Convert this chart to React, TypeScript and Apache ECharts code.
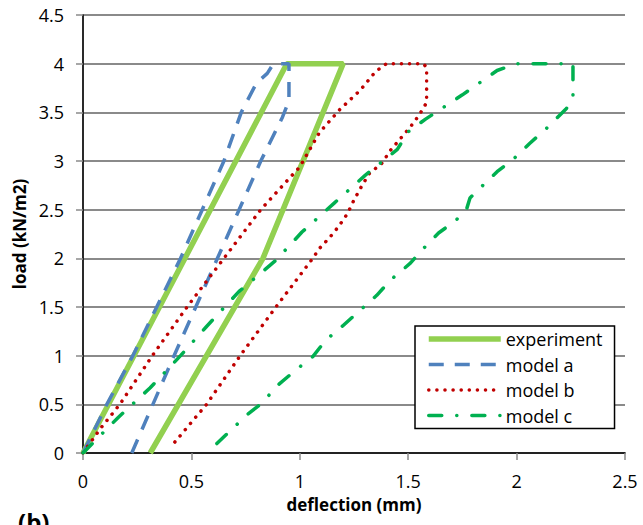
import React, { useEffect, useRef } from "react";
import * as echarts from "echarts";

const xTicks = { min: 0, max: 2.5, interval: 0.5 };
const yTicks = { min: 0, max: 4.5, interval: 0.5 };

const seriesNames = ["experiment", "model a", "model b", "model c"];

const experiment: number[][] = [
  [0, 0], [0.94, 4], [1.2, 4], [0.83, 2], [0.31, 0],
];

const modelA: number[][] = [
  [0, 0], [0.11, 0.5], [0.23, 1], [0.34, 1.5], [0.45, 2], [0.55, 2.5],
  [0.65, 3], [0.73, 3.5], [0.8, 3.8], [0.85, 3.9], [0.87, 3.97], [0.89, 4],
  [0.95, 4], [0.95, 3.62], [0.92, 3.45], [0.82, 3], [0.72, 2.5], [0.62, 2],
  [0.42, 1], [0.225, 0],
];

const modelB: number[][] = [
  [0, 0], [0.08, 0.25], [0.17, 0.5], [0.32, 1], [0.48, 1.5], [0.65, 2],
  [0.82, 2.5], [1.0, 2.94], [1.09, 3.29], [1.185, 3.53], [1.28, 3.73],
  [1.35, 3.92], [1.4, 4], [1.57, 4], [1.585, 3.96], [1.585, 3.6],
  [1.55, 3.47], [1.51, 3.35], [1.46, 3.22], [1.415, 3.1], [1.38, 2.98],
  [1.32, 2.87], [1.285, 2.74], [1.25, 2.6], [1.22, 2.46], [1.18, 2.33],
  [1.14, 2.22], [1.09, 2.1], [1.06, 2.0], [0.89, 1.5], [0.725, 1],
  [0.57, 0.5], [0.4, 0.05],
];

const modelC: number[][] = [
  [0, 0], [0.16, 0.36], [0.31, 0.67], [0.45, 1.0], [0.57, 1.3], [0.72, 1.66],
  [0.89, 1.98], [1.01, 2.27], [1.16, 2.57], [1.3, 2.85], [1.45, 3.12],
  [1.5, 3.3], [1.58, 3.43], [1.75, 3.68], [1.91, 3.93], [2.0, 4], [2.26, 4],
  [2.26, 3.66], [2.23, 3.54], [2.14, 3.34], [2.06, 3.18], [1.99, 3.03],
  [1.91, 2.89], [1.84, 2.74], [1.785, 2.62], [1.77, 2.51], [1.72, 2.39],
  [1.64, 2.26], [1.57, 2.1], [1.51, 1.95], [1.42, 1.78], [1.355, 1.62],
  [1.28, 1.47], [1.2, 1.31], [1.12, 1.16], [1.06, 0.99], [0.98, 0.85],
  [0.89, 0.68], [0.83, 0.52], [0.755, 0.39], [0.68, 0.23], [0.6, 0.06],
  [0.58, 0],
];

const FONT = "Open Sans";

const styles = [
  { color: "#92d050", width: 5.5, type: "solid" as any, cap: "butt" },
  { color: "#4f81bd", width: 3.5, type: [15, 11] as any, cap: "butt" },
  { color: "#c00000", width: 3.5, type: [0.1, 8] as any, cap: "round" },
  { color: "#00b050", width: 3.5, type: [13, 15, 0.1, 15] as any, cap: "round" },
];
const seriesData = [experiment, modelA, modelB, modelC];

export default function App() {
  const ref = useRef<HTMLDivElement>(null);
  useEffect(() => {
    if (!ref.current) return;
    const chart = echarts.init(ref.current, undefined, { renderer: "svg" });
    const axisGray = "#8a8a8a";
    chart.setOption({
      animation: false,
      backgroundColor: "#fff",
      textStyle: { fontFamily: FONT },
      grid: { left: 83, top: 15, right: 18, bottom: 72, containLabel: false },
      xAxis: [
        {
          type: "value",
          min: xTicks.min,
          max: xTicks.max,
          interval: xTicks.interval,
          name: "deflection (mm)",
          nameLocation: "middle",
          nameGap: 43,
          nameTextStyle: { fontFamily: FONT, fontWeight: "bold", fontSize: 17, color: "#000", verticalAlign: "top" },
          axisLine: { show: true, onZero: false, lineStyle: { color: axisGray, width: 1.5 } },
          axisTick: { show: true, inside: false, length: 7, lineStyle: { color: axisGray, width: 1.5 } },
          axisLabel: { fontFamily: FONT, fontSize: 18, color: "#000", margin: 19 },
          splitLine: { show: false },
        },
        {
          type: "value",
          position: "top",
          min: xTicks.min,
          max: xTicks.max,
          axisLine: { show: true, lineStyle: { color: "#000", width: 1.5 } },
          axisTick: { show: false },
          axisLabel: { show: false },
          splitLine: { show: false },
        },
      ],
      yAxis: [
        {
          type: "value",
          min: yTicks.min,
          max: yTicks.max,
          interval: yTicks.interval,
          name: "load (kN/m2)",
          nameLocation: "middle",
          nameGap: 52,
          nameTextStyle: { fontFamily: FONT, fontWeight: "bold", fontSize: 17, color: "#000" },
          axisLine: { show: true, onZero: false, lineStyle: { color: axisGray, width: 1.5 } },
          axisTick: { show: true, inside: false, length: 7, lineStyle: { color: axisGray, width: 1.5 } },
          axisLabel: { fontFamily: FONT, fontSize: 18, color: "#000", margin: 19 },
          splitLine: { show: true, lineStyle: { color: axisGray, width: 2 } },
        },
        {
          type: "value",
          position: "right",
          min: yTicks.min,
          max: yTicks.max,
          axisLine: { show: true, lineStyle: { color: "#000", width: 1.5 } },
          axisTick: { show: false },
          axisLabel: { show: false },
          splitLine: { show: false },
        },
      ],
      legend: {
        orient: "vertical",
        left: 415,
        top: 326,
        data: seriesNames.map((n, i) => ({
          name: n,
          lineStyle: {
            color: styles[i].color,
            width: styles[i].width,
            type: styles[i].type,
            cap: styles[i].cap,
          },
        })),
        itemWidth: 72,
        itemHeight: 14,
        itemGap: 5.5,
        padding: [3, 12, 3, 11],
        backgroundColor: "#fff",
        borderColor: "#000",
        borderWidth: 1.5,
        borderRadius: 0,
        itemStyle: { opacity: 0 },
        textStyle: { fontFamily: FONT, fontSize: 18, lineHeight: 20, color: "#000" },
      },
      graphic: [
        {
          type: "text",
          left: 18,
          top: 509,
          style: { text: "(b)", font: `bold 24px ${FONT}`, fill: "#000" },
        },
      ],
      series: seriesNames.map((n, i) => ({
        name: n,
        type: "line",
        data: seriesData[i],
        symbol: "none",
        lineStyle: {
          color: styles[i].color,
          width: styles[i].width,
          type: styles[i].type,
          cap: styles[i].cap,
        },
        itemStyle: { color: styles[i].color },
        z: 2 + i,
      })),
    });
    return () => chart.dispose();
  }, []);
  return (
    <div
      ref={ref}
      style={{ position: "fixed", left: 0, top: 0, width: 643, height: 525 }}
    />
  );
}
